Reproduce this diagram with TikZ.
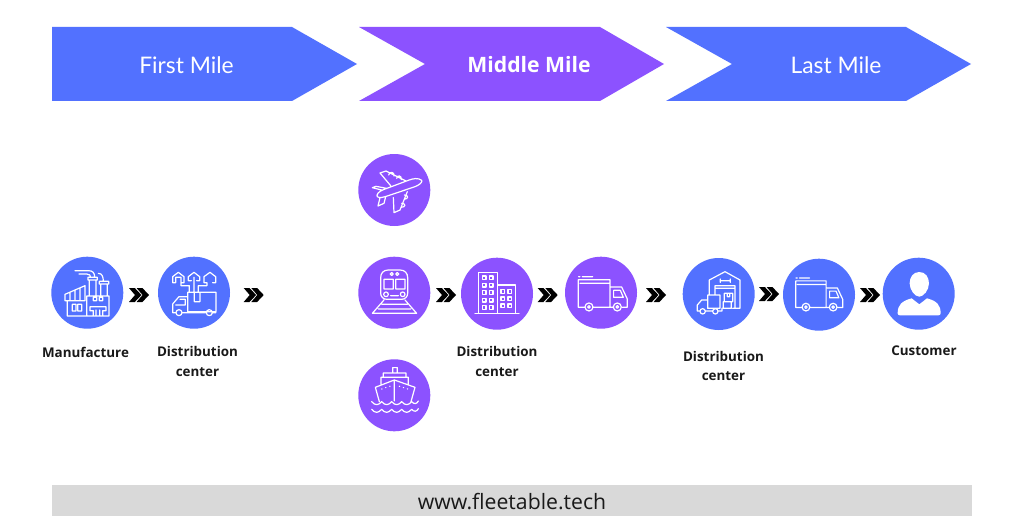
\documentclass[tikz,border=0pt]{standalone}
\usepackage{fontspec}
\setmainfont{Open Sans}
\newfontfamily\lightfont{Lato}
\definecolor{bluefill}{HTML}{5271FF}
\definecolor{purplefill}{HTML}{8C52FF}
\definecolor{footgray}{HTML}{D9D9D9}
\tikzset{
  disc/.style={circle,inner sep=0pt,minimum size=72pt},
  bluedisc/.style={disc,fill=bluefill},
  purpledisc/.style={disc,fill=purplefill},
  caption/.style={align=center,inner sep=0pt,font=\bfseries\fontsize{13.4}{19.5}\selectfont,text=black!90},
  bannertext/.style={inner sep=0pt,text=white,font=\lightfont\fontsize{22.8}{24}\selectfont},
  iconline/.style={draw=white,line width=1.2pt,line join=round,line cap=round},
}
\newcommand{\chev}[2]{%
  \fill[black,shift={(#1,#2)}] (-10,-7)--(-4.2,-7)--(2.4,0)--(-4.2,7)--(-10,7)--(-4,0)--cycle
    (-2.4,-7)--(3.4,-7)--(10,0)--(3.4,7)--(-2.4,7)--(3.6,0)--cycle;}
\newcommand{\vantruck}{%
  \draw[iconline] (780,487)--(780,404)--(685,404)--(685,487)--(703,487)
     (690,415)--(780,415) (731,487)--(788,487)
     (783,426)--(815,426)--(832,462)--(832,487)--(817,487)
     (791,436)--(811,436)--(820,457)--(791,457)--cycle
     (686,395)--(690,395) (697,395)--(728,395)
     (717,486) circle[radius=12] (717,486) circle[radius=4]
     (802,486) circle[radius=12] (802,486) circle[radius=4];}
\begin{document}
\begin{tikzpicture}[x=1pt,y=-1pt]
\useasboundingbox (0,0) rectangle (1024,516);
\fill[white] (0,0) rectangle (1024,516);
% banners
\fill[bluefill] (52,27)--(292,27)--(357,64)--(292,101)--(52,101)--cycle;
\fill[purplefill] (359,27)--(600,27)--(664,64)--(600,101)--(359,101)--(425,64)--cycle;
\fill[bluefill] (666,27)--(906,27)--(971,64)--(906,101)--(666,101)--(732,64)--cycle;
\node[bannertext] (first) at (186.5,65) {First Mile};
\node[bannertext,font=\bfseries\fontsize{21.2}{24}\selectfont] (middle) at (529,65) {Middle Mile};
\node[bannertext] (last) at (836,65) {Last Mile};
% discs
\node[bluedisc] (manu) at (87.3,292.7) {};
\node[bluedisc] (distA) at (194,292.7) {};
\node[purpledisc] (plane) at (394.3,190) {};
\node[purpledisc] (train) at (394.3,292.7) {};
\node[purpledisc] (ship) at (394.3,395.3) {};
\node[purpledisc] (distB) at (497,293.7) {};
\node[purpledisc] (truckA) at (601,292.7) {};
\node[bluedisc] (distC) at (718.7,294) {};
\node[bluedisc] (truckB) at (819,294.7) {};
\node[bluedisc] (cust) at (918.7,293.7) {};
% chevrons
\chev{139}{295}\chev{253.7}{295}\chev{446}{295}\chev{547.7}{295}
\chev{656}{295}\chev{769}{294}\chev{870}{295}
% captions
\node[caption] (capA) at (85.5,352) {Manufacture};
\node[caption] (capB) at (197.5,361.5) {Distribution\\center};
\node[caption] (capC) at (497,361.5) {Distribution\\center};
\node[caption] (capD) at (723.5,366) {Distribution\\center};
\node[caption] (capE) at (924,350.5) {Customer};
% footer
\fill[footgray] (52,485) rectangle (972,516);
\node[inner sep=0pt,text=black!90,font=\fontsize{21.2}{24}\selectfont] (foot) at (512,502) {www.fleetable.tech};
% icons from first crop
\begin{scope}[shift={(30,240)},x=0.3333pt,y=-0.3333pt]
 % factory
 \draw[iconline] (105,182)--(105,163)--(165,137)--(165,182)--cycle
   (120,157)--(120,182) (135,150)--(135,182) (150,144)--(150,182)
   (112,182)--(112,228)--(237,228)--(237,168)--(170,168)--(170,228)
   (127,193) rectangle (138,213) (143,193) rectangle (155,213)
   (178,165)--(178,120) (198,120)--(198,165) (174,112) rectangle (202,120)
   (135,92)--(175,92) .. controls (188,92) and (194,98) .. (194,112)
   (147,102)--(170,102) .. controls (178,102) and (182,106) .. (182,112)
   (212,168)--(212,132) (232,132)--(232,168) (208,124) rectangle (236,132)
   (205,100) .. controls (216,100) and (220,110) .. (220,124)
   (190,172) rectangle (200,182) (208,172) rectangle (218,182)
   (180,212)--(180,200)--(228,200)--(228,212)--(218,212)--(218,228)
   (180,212)--(190,212)--(190,228) (198,210)--(198,228) (209,210)--(209,228);
 % distribution van with houses
 \draw[iconline] (473,157) rectangle (558,215)
   (493,157)--(493,185)--(510,185)--(510,157)
   (473,170)--(447,170)--(428,192)--(428,218)--(438,218)
   (456,218)--(528,218) (549,218)--(558,218)
   (450,178)--(466,178)--(466,195)--(437,195)
   (447,218) circle[radius=9] (538,218) circle[radius=9]
   (437,128)--(428,128)--(428,110)--(445,97)--(462,110)--(462,128)--(453,128)--(453,137)--(478,137)--(478,157)
   (437,128)--(437,112)--(453,112)--(453,128)
   (484,122)--(475,122)--(475,110)--(492,97)--(509,110)--(509,122)--(500,122)
   (492,112)--(492,157)
   (531,128)--(522,128)--(522,110)--(540,97)--(557,110)--(557,128)--(548,128)
   (531,128)--(531,137)--(505,137)--(505,157);
\end{scope}
% icons from second crop
\begin{scope}[shift={(350,145)},x=0.3333pt,y=-0.3333pt]
 % plane
 \draw[iconline] (215,106) .. controls (205,98) and (190,100) .. (175,106)
   --(100,134) .. controls (85,140) and (78,150) .. (82,155)
   .. controls (88,160) and (100,157) .. (115,152)
   --(195,125) .. controls (208,120) and (218,112) .. (215,106) --cycle
   (122,122)--(90,84)--(108,78)--(168,108)
   (130,158)--(132,203)--(150,195)--(172,140)
   (95,135)--(67,128)--(78,124)--(110,130)
   (90,158)--(84,183)--(102,175)--(107,155)
   (116,90) .. controls (118,78) and (134,80) .. (132,93)
   (140,100) .. controls (142,88) and (156,92) .. (154,104)
   (163,150) .. controls (176,150) and (176,162) .. (163,163)
   (155,175) .. controls (168,175) and (168,187) .. (153,187);
 % train
 \draw[iconline] (92,435)--(92,398) .. controls (92,385) and (100,375) .. (115,375)
   --(150,375) .. controls (165,375) and (173,385) .. (173,398)
   --(173,445) .. controls (173,455) and (165,463) .. (155,463)
   --(110,463) .. controls (100,463) and (92,455) .. (92,445)--cycle
   (102,403) rectangle (130,432) (137,403) rectangle (165,432)
   (125,387) circle[radius=4.5] (142,387) circle[radius=4.5]
   (108,448) circle[radius=7] (158,448) circle[radius=7]
   (122,452)--(145,452)
   (102,465)--(67,505)--(200,505)--(165,465)
   (95,478)--(172,478) (85,492)--(182,492);
 % ship
 \draw[iconline] (133,705)--(133,768)
   (133,705)--(76,727)--(88,770)
   (133,705)--(195,727)--(183,770)
   (93,717)--(93,697)--(175,697)--(175,717)
   (100,697)--(100,684)--(168,684)--(168,697)
   (128,684)--(128,668)--(142,668)--(142,684)
   (65,770) .. controls (75,782) and (85,782) .. (95,770)
   .. controls (105,782) and (115,782) .. (125,770)
   .. controls (135,782) and (145,782) .. (155,770)
   .. controls (165,782) and (175,782) .. (185,770)
   .. controls (192,778) and (200,778) .. (205,768)
   (65,793) .. controls (75,805) and (85,805) .. (95,793)
   .. controls (105,805) and (115,805) .. (125,793)
   .. controls (135,805) and (145,805) .. (155,793)
   .. controls (165,805) and (175,805) .. (185,793)
   .. controls (192,801) and (200,801) .. (205,791)
   (95,732)--(96,732) (107,728)--(108,728) (119,724)--(120,724)
   (148,724)--(149,724) (160,728)--(161,728) (172,732)--(173,732);
 % building
 \draw[iconline] (385,505)--(385,382)--(442,382)--(442,505)
   (445,420)--(497,420)--(497,505) (375,505)--(507,505);
 \foreach \yy in {393,415,437,460,482}{
   \draw[iconline] (397,\yy) rectangle +(11,11) (418,\yy) rectangle +(11,11);}
 \foreach \yy in {434,456,477}{
   \draw[iconline] (453,\yy) rectangle +(11,11) (474,\yy) rectangle +(11,11);}
 \vantruck
\end{scope}
% second delivery truck
\begin{scope}[shift={(576.5,151.6)},x=0.32pt,y=-0.32pt]
 \vantruck
\end{scope}
% icons from third crop
\begin{scope}[shift={(640,245)},x=0.3333pt,y=-0.3333pt]
 % warehouse
 \draw[iconline] (208,150)--(208,105)--(255,80)--(300,105)--(300,190)--(278,190)
   (225,150)--(225,122)--(285,122)--(285,190)
   (225,130)--(285,130)
   (241,102)--(241,112) (271,102)--(271,112) (241,107)--(271,107)
   (203,150) rectangle (240,190)
   (203,165)--(185,165)--(172,180)--(172,198)--(180,198)
   (197,198)--(217,198) (234,198)--(246,198)--(246,190)
   (188,199) circle[radius=8] (226,199) circle[radius=8]
   (253,145) rectangle (278,170) (250,170) rectangle (274,190)
   (262,145)--(262,155)--(269,155)--(269,145);
 % customer
 \fill[white] (838,81) .. controls (820,81) and (809,96) .. (809,115)
   .. controls (809,135) and (825,155) .. (838,155)
   .. controls (851,155) and (867,135) .. (867,115)
   .. controls (867,96) and (856,81) .. (838,81) --cycle;
 \fill[white] (773,205) .. controls (773,180) and (785,168) .. (815,160)
   --(838,178)--(861,160) .. controls (891,168) and (902,180) .. (902,205)
   .. controls (902,209) and (899,211) .. (895,211)
   --(780,211) .. controls (776,211) and (773,209) .. (773,205) --cycle;
\end{scope}
\end{tikzpicture}
\end{document}
